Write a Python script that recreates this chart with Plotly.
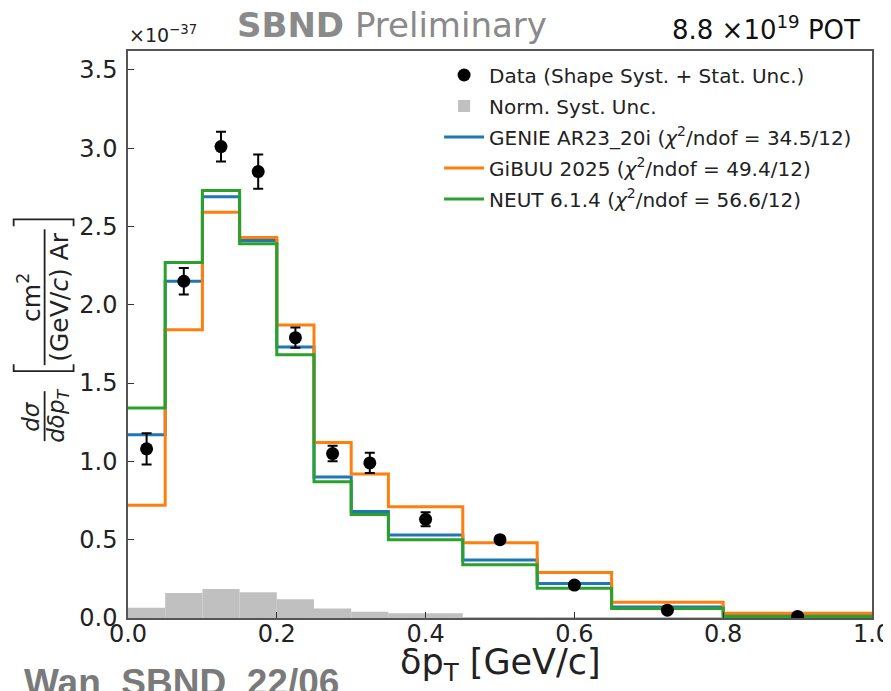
import plotly.graph_objects as go

# ---------------- data ----------------
bin_edges = [0.0, 0.05, 0.10, 0.15, 0.20, 0.25, 0.30, 0.35, 0.45, 0.55, 0.65, 0.80, 1.0]
data_vals = [1.08, 2.15, 3.01, 2.85, 1.79, 1.05, 0.99, 0.63, 0.50, 0.21, 0.05, 0.01]
data_errs = [0.10, 0.085, 0.095, 0.11, 0.065, 0.05, 0.065, 0.045, 0.02, 0.02, 0.012, 0.01]
norm_syst = [0.065, 0.16, 0.185, 0.165, 0.12, 0.06, 0.04, 0.03, 0.006, 0.004, 0.003, 0.002]
genie_vals = [1.17, 2.15, 2.69, 2.41, 1.73, 0.90, 0.68, 0.53, 0.37, 0.22, 0.07, 0.02]
gibuu_vals = [0.72, 1.84, 2.59, 2.43, 1.87, 1.12, 0.92, 0.71, 0.48, 0.29, 0.10, 0.03]
neut_vals = [1.34, 2.27, 2.73, 2.39, 1.68, 0.87, 0.66, 0.50, 0.34, 0.19, 0.06, 0.01]
y_ticks = [0.0, 0.5, 1.0, 1.5, 2.0, 2.5, 3.0, 3.5]
x_ticks = [0.0, 0.2, 0.4, 0.6, 0.8, 1.0]

names = {
    "data": "Data (Shape Syst. + Stat. Unc.)",
    "norm": "Norm. Syst. Unc.",
    "genie": "GENIE AR23_20i (<i>χ</i><sup>2</sup>/ndof = 34.5/12)",
    "gibuu": "GiBUU 2025 (<i>χ</i><sup>2</sup>/ndof = 49.4/12)",
    "neut": "NEUT 6.1.4 (<i>χ</i><sup>2</sup>/ndof = 56.6/12)",
}

centers = [(a + b) / 2 for a, b in zip(bin_edges[:-1], bin_edges[1:])]
widths = [b - a for a, b in zip(bin_edges[:-1], bin_edges[1:])]

FONT = "DejaVu Sans"
OFF = 8  # page body margin of the default html
W, H = 891 - OFF, 691 - OFF
# plot area in window pixels
L, R, T, B = 127.5, 872.5, 50.5, 618.0


def px2x(px):
    return (px - L) / (R - L)


def px2y(py):
    return (B - py) / (B - T)


fig = go.Figure()

fig.add_trace(go.Bar(
    x=centers, y=norm_syst, width=widths,
    marker=dict(color="#c0c0c0", line=dict(width=0)),
    name=names["norm"], legendrank=2, legendgroup="b",
))


def step(vals, color, name, rank, grp):
    fig.add_trace(go.Scatter(
        x=bin_edges, y=vals + [vals[-1]], mode="lines",
        line=dict(shape="hv", color=color, width=3),
        name=name, legendrank=rank, legendgroup=grp,
    ))


step(genie_vals, "#1f77b4", names["genie"], 3, "c")
step(gibuu_vals, "#ff7f0e", names["gibuu"], 4, "d")
step(neut_vals, "#2ca02c", names["neut"], 5, "e")

fig.add_trace(go.Scatter(
    x=centers, y=data_vals, mode="markers",
    marker=dict(color="black", size=13),
    error_y=dict(type="data", array=data_errs, color="black", thickness=2, width=5),
    name=names["data"], legendrank=1, legendgroup="a",
))

axis_common = dict(
    showline=True, linecolor="#555555", linewidth=1.5, mirror=True,
    ticks="inside", ticklen=6, tickwidth=1.2, tickcolor="#333333",
    showgrid=False, zeroline=False, automargin=False, ticklabeloverflow="allow",
    tickfont=dict(family=FONT, size=24, color="#222222"),
)

fig.update_xaxes(range=[0, 1], tickvals=x_ticks, tickformat=".1f", ticklabelstandoff=-7,
                 **axis_common)
fig.update_yaxes(range=[0, 3.62], tickvals=y_ticks, tickformat=".1f", ticklabelstandoff=4,
                 **axis_common)

ann = []
shapes = []
# x-axis title
ann.append(dict(text="δp<sub>T</sub> [GeV/c]", x=px2x(501), y=px2y(665), xanchor="center", yanchor="middle",
                font=dict(family=FONT, size=35, color="#222222")))
# top texts
ann.append(dict(text="×10<sup>−37</sup>", x=px2x(126), y=px2y(33), xanchor="left", yanchor="middle",
                font=dict(family=FONT, size=19, color="#222222")))
ann.append(dict(text="<b>SBND</b> Preliminary", x=px2x(392), y=px2y(24), xanchor="center", yanchor="middle",
                font=dict(family=FONT, size=34, color="#8a8a8a")))
ann.append(dict(text="8.8 ×10<sup>19</sup> POT", x=px2x(862), y=px2y(27), xanchor="right", yanchor="middle",
                font=dict(family=FONT, size=26, color="#111111")))
# bottom-left slide text
ann.append(dict(text="<b>Wan_SBND_22/06</b>", x=px2x(21), y=px2y(683), xanchor="left", yanchor="middle",
                font=dict(family="Liberation Sans", size=37, color="#7a7a7a")))

# y-axis label built from pieces
yl_small = dict(family=FONT, size=23, color="#222222")
yl_big = dict(family=FONT, size=25, color="#222222")
ann.append(dict(text="<i>dσ</i>", x=px2x(31), y=px2y(416), textangle=-90, xanchor="center", yanchor="middle", font=yl_small))
ann.append(dict(text="<i>dδp<sub>T</sub></i>", x=px2x(58), y=px2y(416), textangle=-90, xanchor="center", yanchor="middle", font=yl_small))
ann.append(dict(text="cm<sup>2</sup>", x=px2x(29), y=px2y(297), textangle=-90, xanchor="center", yanchor="middle", font=yl_big))
ann.append(dict(text="(GeV/<i>c</i>) Ar", x=px2x(59), y=px2y(297), textangle=-90, xanchor="center", yanchor="middle", font=yl_big))
for a in ann:
    a.update(xref="paper", yref="paper", showarrow=False)

line_style = dict(color="#222222", width=1.8)
shapes.append(dict(type="line", x0=px2x(44), x1=px2x(44), y0=px2y(391), y1=px2y(441), line=line_style))
shapes.append(dict(type="line", x0=px2x(44), x1=px2x(44), y0=px2y(229), y1=px2y(365), line=line_style))
# brackets
bx0, bx1 = px2x(13), px2x(73)
shapes.append(dict(type="path", path=f"M {bx0},{px2y(364)} L {bx0},{px2y(371)} L {bx1},{px2y(371)} L {bx1},{px2y(364)}", line=line_style))
shapes.append(dict(type="path", path=f"M {bx0},{px2y(226)} L {bx0},{px2y(219)} L {bx1},{px2y(219)} L {bx1},{px2y(226)}", line=line_style))
for s in shapes:
    s.update(xref="paper", yref="paper")

fig.update_layout(
    width=W, height=H,
    margin=dict(l=L - OFF, r=W - (R - OFF), t=T - OFF, b=H - (B - OFF), autoexpand=False),
    paper_bgcolor="white", plot_bgcolor="white",
    barmode="overlay",
    showlegend=True,
    legend=dict(x=px2x(439), y=px2y(55), xanchor="left", yanchor="top",
                bgcolor="rgba(0,0,0,0)", borderwidth=0,
                font=dict(family=FONT, size=20, color="#222222"),
                traceorder="grouped", tracegroupgap=2, itemwidth=40),
    annotations=ann, shapes=shapes,
    font=dict(family=FONT),
)

fig.write_html("out.html")
